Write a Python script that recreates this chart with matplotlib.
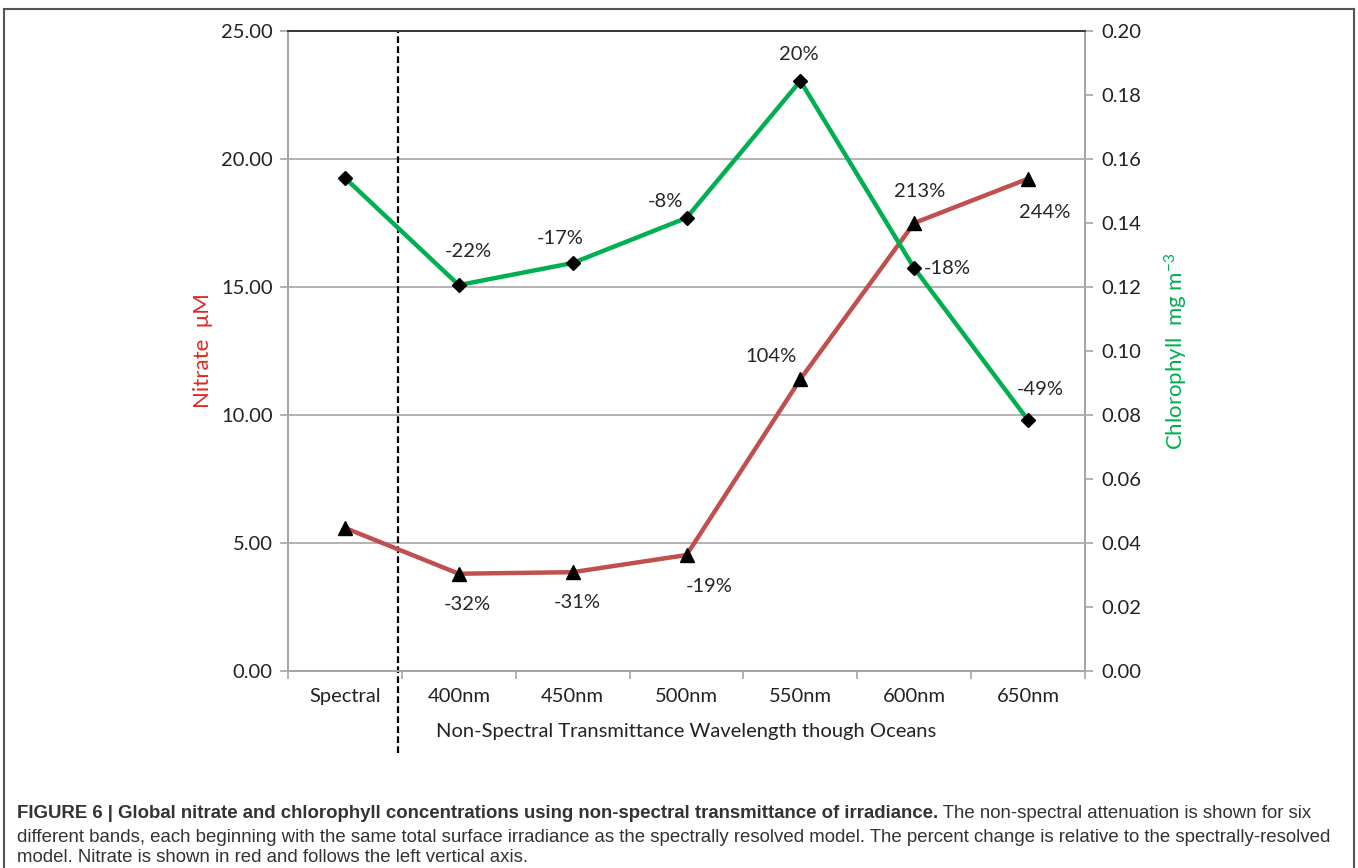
import numpy as np
import matplotlib.pyplot as plt
from matplotlib.lines import Line2D

# categories along the x axis
bands = ['Spectral', '400nm', '450nm', '500nm', '550nm', '600nm', '650nm']

# nitrate (uM, left axis) and chlorophyll (mg m-3, right axis)
nitrate = [5.59, 3.80, 3.86, 4.53, 11.40, 17.50, 19.23]
chlorophyll = [0.1541, 0.1206, 0.1275, 0.1416, 0.1844, 0.1259, 0.0784]

# percent change relative to the spectral run
nitrate_pct = ['', '-32%', '-31%', '-19%', '104%', '213%', '244%']
chl_pct = ['', '-22%', '-17%', '-8%', '20%', '-18%', '-49%']

# label offsets in points (dx, dy)
nitrate_off = [(0, 0), (6, -22), (3, -22), (16, -23), (-21, 16), (4, 23), (12, -24)]
chl_off = [(0, 0), (7, 24), (-9, 18), (-15, 12), (-1, 19), (24, 0), (9, 22)]

RED = '#c0504d'
GREEN = '#00b050'
GRID = '#a6a6a6'
FONT = 'Lato'
FS = 14.5

plt.rcParams['mathtext.fontset'] = 'custom'
plt.rcParams['mathtext.rm'] = FONT
plt.rcParams['mathtext.it'] = FONT

fig = plt.figure(figsize=(13.58, 8.68), dpi=100)
ax = fig.add_axes([288 / 1358, 1 - 671 / 868, (1085 - 288) / 1358, 640 / 868])
ax2 = ax.twinx()

x = np.arange(len(bands))

ax.set_xlim(-0.5, len(bands) - 0.5)
ax.set_ylim(0, 25)
ax2.set_ylim(0, 0.20)

ax.set_yticks(np.arange(0, 26, 5))
ax.set_yticklabels(['%.2f' % v for v in np.arange(0, 26, 5)], fontsize=FS, family=FONT,
                   color='#222222')
ax2.set_yticks(np.arange(0, 0.201, 0.02))
ax2.set_yticklabels(['%.2f' % v for v in np.arange(0, 0.201, 0.02)], fontsize=FS, family=FONT,
                    color='#222222')

ax.set_xticks(np.arange(-0.5, len(bands), 1.0))
ax.set_xticklabels([])
ax.set_xticks(x, minor=True)
ax.set_xticklabels(bands, minor=True, fontsize=FS, family=FONT, color='#222222')
ax.tick_params(axis='x', which='minor', length=0, pad=12)
ax.tick_params(axis='x', which='major', length=6, color=GRID, width=1.2)
ax.tick_params(axis='y', length=6, color=GRID, width=1.2, pad=5)
ax2.tick_params(axis='y', length=6, color=GRID, width=1.2, pad=6)

for a in (ax, ax2):
    for s in ('left', 'right', 'bottom'):
        a.spines[s].set_color(GRID)
        a.spines[s].set_linewidth(1.4)
    a.spines['top'].set_color('#3a3a3a')
    a.spines['top'].set_linewidth(1.4)

ax.yaxis.grid(True, color=GRID, linewidth=1.2)
ax.set_axisbelow(True)

ax.set_ylabel('Nitrate  \u03bcM', color='#e02a22', fontsize=16, family=FONT)
ax.yaxis.set_label_coords(-0.094, 0.5)
ax2.set_ylabel('Chlorophyll  mg m$^{-3}$', color=GREEN, fontsize=16, family=FONT)
ax2.yaxis.set_label_coords(1.098, 0.5)
ax.set_xlabel('Non-Spectral Transmittance Wavelength though Oceans', fontsize=FS,
              family=FONT, labelpad=13, color='#222222')

# split between spectral and non-spectral runs
ax.plot([0.47, 0.47], [-3.2, 25], color='black', linestyle=(0, (3, 1.5)),
        linewidth=1.6, clip_on=False, zorder=5)

ax.plot(x, nitrate, color=RED, linewidth=3.2, marker='^', markersize=10,
        markerfacecolor='black', markeredgecolor='black', zorder=6)
ax2.plot(x, chlorophyll, color=GREEN, linewidth=3.2, marker='D', markersize=7.5,
         markerfacecolor='black', markeredgecolor='black', zorder=6)

for i in range(len(bands)):
    if nitrate_pct[i]:
        ax.annotate(nitrate_pct[i], (x[i], nitrate[i]), xytext=nitrate_off[i],
                    textcoords='offset points', ha='center', va='center',
                    fontsize=FS, family=FONT, color='#262626')
    if chl_pct[i]:
        ax2.annotate(chl_pct[i], (x[i], chlorophyll[i]), xytext=chl_off[i],
                     textcoords='offset points', ha='center', va='center',
                     fontsize=FS, family=FONT, color='#262626')

# frame around the figure panel
for xs, ys in (([0.003, 0.997], [0.99, 0.99]), ([0.003, 0.003], [0.0, 0.99]),
               ([0.997, 0.997], [0.0, 0.99])):
    fig.add_artist(Line2D(xs, ys, color='#555555', linewidth=1.5,
                          transform=fig.transFigure))

# caption
cap = dict(fontsize=13.4, family='Liberation Sans', color='#333333')
t1 = fig.text(17 / 1358, 1 - 822 / 868, 'FIGURE 6 | Global nitrate and chlorophyll concentrations '
              'using non-spectral transmittance of irradiance.', fontweight='bold',
              va='bottom', **cap)
ax.annotate(' The non-spectral attenuation is shown for six', xy=(1, 0), xycoords=t1,
            va='bottom', ha='left', annotation_clip=False, **cap)
fig.text(17 / 1358, 1 - 846 / 868, 'different bands, each beginning with the same total surface '
         'irradiance as the spectrally resolved model. The percent change is relative to the '
         'spectrally-resolved', va='bottom', **cap)
fig.text(17 / 1358, 1 - 869 / 868 + 0.003, 'model. Nitrate is shown in red and follows the left vertical axis.',
         va='bottom', **cap)

fig.savefig('out.png', dpi=100)
